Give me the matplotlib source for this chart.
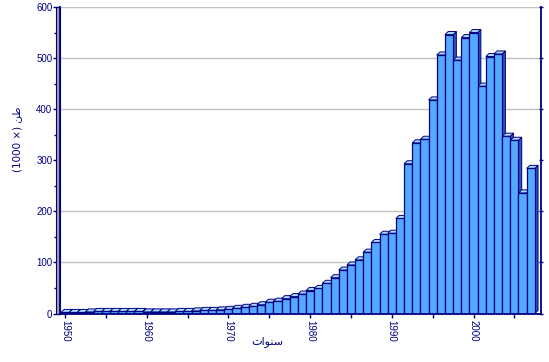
import matplotlib
matplotlib.use('Agg')
import matplotlib.pyplot as plt
from matplotlib.patches import Polygon, Rectangle
from matplotlib.ticker import MultipleLocator, FixedLocator, NullLocator

# ---- data ----
years = list(range(1950, 2008))
values = [2, 2, 2, 3, 4, 4, 4, 4, 4, 4, 3, 3, 3, 3, 4, 4, 5, 6, 6, 7,
          8, 10, 12, 14, 17, 22, 24, 29, 33, 38, 45, 49, 59, 70, 85, 95, 105, 120, 139, 155,
          157, 186, 293, 334, 341, 418, 506, 546, 496, 540, 550, 445, 503, 508, 347, 339, 236, 284]
x_ticks = [1950, 1960, 1970, 1980, 1990, 2000]
x_tick_labels = ['1950', '1960', '1970', '1980', '1990', '2000']
y_ticks = [0, 100, 200, 300, 400, 500, 600]
grid_values = [100, 200, 400, 500, 600]
xlabel_text = '\uFE95\uFE8D\uFEEE\uFEE8\uFEB3'          # سنوات (visual order, shaped)
ylabel_text = '(1000 \u00D7) \uFEE6\uFEC3'              # طن (× 1000) (visual order, shaped)

NAVY = '#000080'
FRONT = '#55A8FF'
TOP = '#A8DCFF'
SIDE = '#2A58C0'
WALL = '#A0A0A0'

fig = plt.figure(figsize=(5.49, 3.62), dpi=100)
ax = fig.add_axes([60 / 549, (362 - 313.5) / 362, 481 / 549, 306.5 / 362])

xmin, xmax = 1949.39, 2008.26
ax.set_xlim(xmin, xmax)
ax.set_ylim(0, 600)

dx = 0.40
dy = 6.0

# gridlines
for g in grid_values:
    ax.axhline(g, color='#C0C0C0', lw=1.0, zorder=1)

# depth parts (sides and tops)
for x, h in zip(years, values):
    x0, x1 = x - 0.5, x + 0.5
    side = Polygon([(x1, 0), (x1, h), (x1 + dx, h + dy), (x1 + dx, dy)],
                   closed=True, facecolor=SIDE, edgecolor=NAVY, lw=0.7, zorder=2)
    top = Polygon([(x0, h), (x1, h), (x1 + dx, h + dy), (x0 + dx, h + dy)],
                  closed=True, facecolor=TOP, edgecolor=NAVY, lw=0.7, zorder=2)
    ax.add_patch(side)
    ax.add_patch(top)

# front faces
ax.bar(years, values, width=1.0, color=FRONT, edgecolor=NAVY, linewidth=0.9, zorder=3)

# left wall
wall = Rectangle((xmin - 0.45, -1.5), 0.45, 601.5, facecolor=WALL, edgecolor=NAVY,
                 lw=0.8, clip_on=False, zorder=4)
ax.add_patch(wall)

for s in ['left', 'bottom', 'right']:
    ax.spines[s].set_color(NAVY)
    ax.spines[s].set_linewidth(1.3)
    ax.spines[s].set_zorder(5)
ax.spines['top'].set_visible(False)

tick_font = dict(family=['Liberation Sans Narrow', 'Liberation Sans'], size=7, color=NAVY)

ax.yaxis.set_major_locator(FixedLocator(y_ticks))
ax.yaxis.set_minor_locator(MultipleLocator(50))
ax.set_yticks(y_ticks)
ax.set_yticklabels([str(v) for v in y_ticks], fontdict=tick_font)
ax.tick_params(axis='y', which='major', direction='out', length=5, width=1.0,
               color=NAVY, pad=0.5)
ax.tick_params(axis='y', which='minor', direction='out', length=4, width=1.0,
               color=NAVY)

ax.set_xticks(x_ticks)
ax.set_xticklabels(x_tick_labels, fontdict=tick_font, rotation=270)
ax.xaxis.set_minor_locator(MultipleLocator(5))
ax.tick_params(axis='x', which='major', direction='out', length=3, width=1.0,
               color=NAVY, pad=2)
ax.tick_params(axis='x', which='minor', direction='out', length=3, width=1.0,
               color=NAVY)

# small ticks on the right wall
ax2 = ax.twinx()
ax2.set_ylim(0, 600)
ax2.set_yticks(y_ticks)
ax2.yaxis.set_minor_locator(NullLocator())
ax2.tick_params(axis='y', which='major', direction='inout', length=3, width=1.0,
                color=NAVY, labelright=False)
for s in ax2.spines.values():
    s.set_visible(False)

fig.text(267 / 549, 1 - 342 / 362, xlabel_text, ha='center', va='center',
         fontsize=8, color=NAVY, family=['DejaVu Sans'])
fig.text(17 / 549, 1 - 139 / 362, ylabel_text, ha='center', va='center',
         rotation=90, fontsize=7.5, color=NAVY, family=['DejaVu Sans'])

fig.savefig('out.png', dpi=100)
